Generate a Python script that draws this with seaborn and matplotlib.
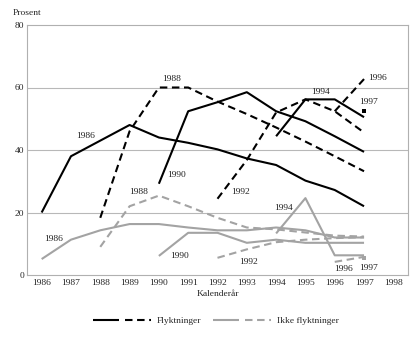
import matplotlib
matplotlib.use("Agg")
import matplotlib.pyplot as plt
from matplotlib.lines import Line2D
from matplotlib.legend_handler import HandlerTuple
import pandas as pd
import seaborn as sns

# Share (%) per calendar year, one series per arrival cohort
years_1986 = [1986, 1987, 1988, 1989, 1990, 1991, 1992, 1993, 1994, 1995, 1996, 1997]
years_1988 = [1988, 1989, 1990, 1991, 1992, 1993, 1994, 1995, 1996, 1997]
years_1990 = [1990, 1991, 1992, 1993, 1994, 1995, 1996, 1997]
years_1992 = [1992, 1993, 1994, 1995, 1996, 1997]
years_1994 = [1994, 1995, 1996, 1997]
years_1996 = [1996, 1997]
years_1997 = [1997]

# Flyktninger
fl_1986 = [20, 38, 43, 48, 44, 42.3, 40.2, 37.3, 35.2, 30.2, 27.2, 22]
fl_1988 = [18.3, 46, 60, 60, 55.5, 51.5, 47.2, 42.7, 38, 33.2]
fl_1990 = [29.2, 52.4, 55.3, 58.5, 52.4, 49.2, 44.4, 39.4]
fl_1992 = [24.4, 36.8, 52, 56.2, 52.4, 45.6]
fl_1994 = [44.4, 56.2, 56.2, 50.5]
fl_1996 = [52.4, 62.7]
fl_1997 = [52.4]

# Ikke flyktninger
ik_1986 = [5.1, 11.3, 14.3, 16.3, 16.3, 15.2, 14.3, 14.3, 15.2, 14.3, 12, 12]
ik_1988 = [9, 22, 25.4, 22, 18.3, 15.2, 14.6, 13.6, 12.6, 12.3]
ik_1990 = [6.1, 13.5, 13.5, 10.3, 11.3, 10.3, 10.3, 10.3]
ik_1992 = [5.5, 8.2, 10.5, 11.3, 11.8, 12.1]
ik_1994 = [13.3, 24.6, 6.3, 6.3]
ik_1996 = [4.2, 5.8]
ik_1997 = [5.3]

x_ticks = list(range(1986, 1999))
y_ticks = [0, 20, 40, 60, 80]

sns.set_theme(style="white")
plt.rcParams["font.family"] = ["Liberation Serif", "DejaVu Serif"]
plt.rcParams["lines.solid_capstyle"] = "butt"

BLACK = "#000000"
GREY = "#a3a3a3"
LW = 1.5
DASH = (0, (3.6, 2.2))

fig = plt.figure(figsize=(4.19, 3.37), dpi=100)
ax = fig.add_axes([27 / 419, 1 - 275 / 337, (408 - 27) / 419, (275 - 25) / 337])

series = [
    (years_1986, fl_1986, BLACK, "-"),
    (years_1988, fl_1988, BLACK, DASH),
    (years_1990, fl_1990, BLACK, "-"),
    (years_1992, fl_1992, BLACK, DASH),
    (years_1994, fl_1994, BLACK, "-"),
    (years_1996, fl_1996, BLACK, DASH),
    (years_1986, ik_1986, GREY, "-"),
    (years_1988, ik_1988, GREY, DASH),
    (years_1990, ik_1990, GREY, "-"),
    (years_1992, ik_1992, GREY, DASH),
    (years_1994, ik_1994, GREY, "-"),
    (years_1996, ik_1996, GREY, DASH),
]
for xs, ys, col, ls in series:
    df = pd.DataFrame({"year": xs, "value": ys})
    sns.lineplot(data=df, x="year", y="value", ax=ax, color=col,
                 linestyle=ls, linewidth=LW, legend=False)

for ys, col in [(fl_1997, BLACK), (ik_1997, GREY)]:
    sns.scatterplot(x=years_1997, y=ys, ax=ax, color=col, marker="s",
                    s=9, linewidth=0, legend=False)

labels = [
    ("1986", 1987.5, 44.4), ("1988", 1990.45, 62.7), ("1990", 1990.6, 32),
    ("1992", 1992.8, 26.4), ("1994", 1995.5, 58.5), ("1996", 1997.45, 63),
    ("1997", 1997.15, 55.3),
    ("1986", 1986.4, 11.6), ("1988", 1989.3, 26.4), ("1990", 1990.7, 6.1),
    ("1992", 1993.05, 4.2), ("1994", 1994.25, 21.5), ("1996", 1996.3, 1.9),
    ("1997", 1997.15, 2.2),
]
for txt, lx, ly in labels:
    ax.text(lx, ly, txt, fontsize=6.8, ha="center", va="center", color="#222222")

ax.set_xlim(1985.5, 1998.5)
ax.set_ylim(0, 80)
ax.set_xticks(x_ticks)
ax.set_xticklabels([str(v) for v in x_ticks], fontsize=6.8)
ax.set_yticks(y_ticks)
ax.set_yticklabels([str(v) for v in y_ticks], fontsize=6.8)
ax.tick_params(axis="x", direction="in", length=4.5, width=0.6, color=GREY, pad=3)
ax.tick_params(axis="y", length=0, pad=2)
for y in [20, 40, 60]:
    ax.axhline(y, color="#b8b8b8", linewidth=0.8, zorder=0)
for sp in ax.spines.values():
    sp.set_color("#b0b0b0")
    sp.set_linewidth(0.8)
ax.set_xlabel("Kalenderår", fontsize=6.8, labelpad=2)
ax.set_ylabel("")

fig.text(13 / 419, 1 - 13 / 337, "Prosent", fontsize=6.8, ha="left", va="center")

h_fl = (Line2D([], [], color=BLACK, lw=LW), Line2D([], [], color=BLACK, lw=LW, linestyle=DASH))
h_ik = (Line2D([], [], color=GREY, lw=LW), Line2D([], [], color=GREY, lw=LW, linestyle=DASH))
fig.legend([h_fl, h_ik], ["Flyktninger", "Ikke flyktninger"],
           handler_map={tuple: HandlerTuple(ndivide=None, pad=0.6)},
           loc="center", bbox_to_anchor=(0.515, 0.047), ncol=2, frameon=False,
           fontsize=6.8, handlelength=6.2, handletextpad=0.6, columnspacing=1.2)

fig.savefig("out.png", dpi=100)
